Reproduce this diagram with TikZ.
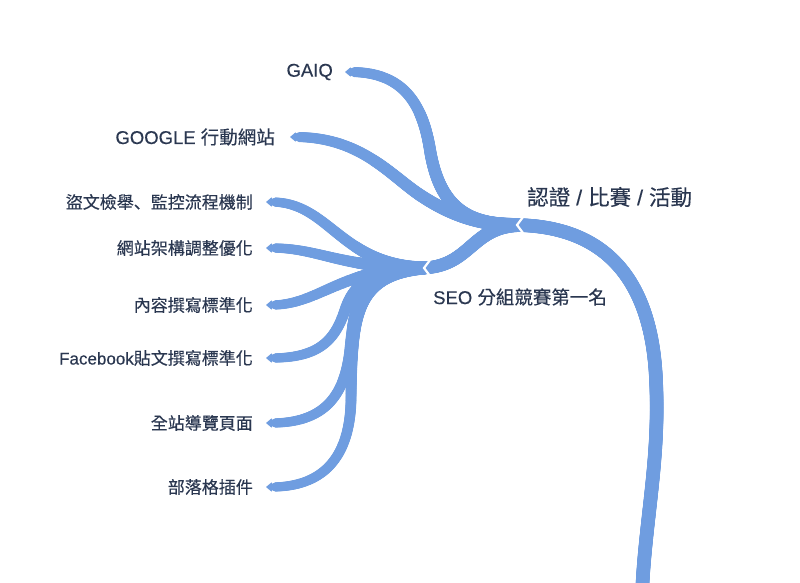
\documentclass[tikz,border=0pt]{standalone}
\usepackage{fontspec}
\setmainfont{Liberation Sans}[FakeBold=0.35]
\newfontfamily\cjk{Noto Sans CJK TC}[FakeBold=0.35]
\newfontfamily\cjksc{Noto Sans CJK SC}[FakeBold=0.35]
\usetikzlibrary{decorations.markings,positioning}
\definecolor{branchcol}{RGB}{111,157,224}
\definecolor{textcol}{RGB}{42,55,80}
\newcommand\leaftip[1]{\fill[branchcol] ([xshift=-5.5pt]#1) -- ([yshift=4.6pt]#1) -- ([shift={(4.5,4.6)}]#1) -- ([shift={(4.5,-4.6)}]#1) -- ([yshift=-4.6pt]#1) -- cycle;}
\begin{document}
\begin{tikzpicture}[x=1pt,y=-1pt,
  taper/.style 2 args={postaction={decorate,decoration={markings,
      mark=between positions 4pt and 1 step 0.8pt with {%
        \pgfmathsetmacro\tpr{#1+(#2-#1)*(\pgfkeysvalueof{/pgf/decoration/mark info/distance from start})/(\pgfdecoratedpathlength)}%
        \fill[branchcol] (0pt,0pt) circle[radius=\tpr pt];}}}},
  leaf/.style={text=textcol, inner sep=0pt, font=\fontsize{17}{20}\selectfont},
  midlbl/.style={text=textcol, inner sep=0pt, font=\fontsize{18.5}{22}\selectfont},
  rootlbl/.style={text=textcol, inner sep=0pt, font=\fontsize{21.5}{25}\selectfont},
  notch/.style={draw=white, line width=2.2pt, line join=miter}
]
\fill[white] (0,0) rectangle (800,582);
\useasboundingbox (0,0) rectangle (800,582);

% junctions and tips
\coordinate (J1) at (517,225);
\coordinate (J2) at (424,268);
\coordinate (p1) at (350.5,72);
\coordinate (p2) at (295.5,137);
\coordinate (p3) at (271.5,202);
\coordinate (p4) at (271.5,248);
\coordinate (p5) at (271.5,305);
\coordinate (p6) at (271.5,358);
\coordinate (p7) at (271.5,423);
\coordinate (p8) at (271.5,487);
\coordinate (bot) at (642,594);

% trunk
\path[taper={6.8}{6.8}] ([xshift=-4pt]J1) .. controls +(97,0) and (652,285) .. (656,380)
   .. controls (660,460) and (645,520) .. (bot);
% level 2
\path[taper={5}{7}] (p1) .. controls +(50,0) and (422,100) .. (430,150)
   .. controls (440,210) and +(-47,0) .. (J1);
\path[taper={5}{7}] (p2) .. controls +(65,0) and (390,175) .. (420,195)
   .. controls (450,215) and +(-37,0) .. (J1);
\path[taper={6.3}{7}] ([xshift=-4pt]J2) .. controls +(50,0) and +(-47,3) .. (J1);
% leaves
\path[taper={4.6}{6.5}] (p3) .. controls +(58,0) and +(-84,-3) .. (J2);
\path[taper={4.6}{6.5}] (p4) .. controls +(48,0) and +(-84,0) .. (J2);
\path[taper={4.6}{6.5}] (p5) .. controls +(48,0) and +(-84,0) .. (J2);
\path[taper={4.6}{6.5}] (p6) .. controls +(48,0) and (335,340) .. (345,310)
   .. controls (355,280) and +(-44,0) .. (J2);
\path[taper={4.6}{6.5}] (p7) .. controls +(58,0) and (345,390) .. (350,350)
   .. controls (355,300) and +(-62,2) .. (J2);
\path[taper={4.6}{6.5}] (p8) .. controls +(58,0) and (350,450) .. (351,400)
   .. controls (352,320) and +(-72,7) .. (J2);

% pointed tips
\leaftip{p1}\leaftip{p2}\leaftip{p3}\leaftip{p4}
\leaftip{p5}\leaftip{p6}\leaftip{p7}\leaftip{p8}

% notches
\draw[notch] ([shift={(6,-8)}]J1) -- (J1) -- ([shift={(6,8)}]J1);
\draw[notch] ([shift={(6,-8)}]J2) -- (J2) -- ([shift={(6,8)}]J2);

% labels
\node[rootlbl, anchor=west] (root) at ([shift={(10,-28)}]J1) {{\cjk 認證} / {\cjk 比賽} / {\cjk 活動}};
\node[midlbl, anchor=west] (seo) at ([shift={(9,29)}]J2) {SEO {\cjk 分組競賽第一名}};
\node[midlbl, left=17.5pt of p1] (gaiq) {GAIQ};
\node[midlbl, left=20.5pt of p2] (google) {GOOGLE {\cjk 行動網站}};
\node[leaf, left=18.5pt of p3] (l1) {\cjk 盜文檢舉{\cjksc 、}監控流程機制};
\node[leaf, left=18.5pt of p4] (l2) {\cjk 網站架構調整優化};
\node[leaf, left=18.5pt of p5] (l3) {\cjk 內容撰寫標準化};
\node[leaf, left=18.5pt of p6] (l4) {Facebook{\cjk 貼文撰寫標準化}};
\node[leaf, left=18.5pt of p7] (l5) {\cjk 全站導覽頁面};
\node[leaf, left=18.5pt of p8] (l6) {\cjk 部落格插件};
\end{tikzpicture}
\end{document}
